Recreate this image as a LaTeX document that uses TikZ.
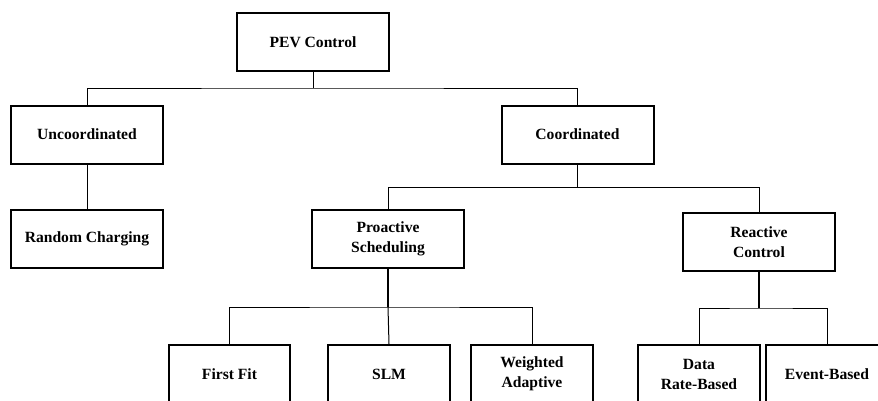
\documentclass[tikz,border=0pt]{standalone}
\usepackage{fontspec}
\setmainfont{Liberation Serif}
\usetikzlibrary{positioning}

\begin{document}
\begin{tikzpicture}[x=0.75pt, y=-0.75pt,
    box/.style={draw, line width=1.5pt, minimum width=114pt, minimum height=43.5pt,
      align=center, inner sep=2pt, font=\fontsize{11.7}{15}\selectfont\bfseries},
    leaf/.style={box, minimum width=91pt},
    link/.style={line width=0.75pt},
    trunk/.style={line width=1.4pt}]
  \useasboundingbox (0,0) rectangle (878,400);
  \clip (0,0) rectangle (878,400);
  % upper levels
  \node[box] (pev) at (313,42) {PEV Control};
  \node[box] (uncoord) at (87,134.5) {Uncoordinated};
  \node[box] (coord) at (577.5,134.5) {Coordinated};
  \node[box] (random) at (87,239) {Random Charging};
  \node[box] (proact) at (388,239) {Proactive\\Scheduling};
  \node[box] (react) at (759,242) {Reactive\\Control};
  % leaves, cut by the lower edge
  \foreach \n/\x/\l in {ff/229.5/{First Fit}, slm/389/{SLM}, wa/532/{Weighted\\Adaptive},
      drb/699/{Data\\Rate-Based}, eb/827/{Event-Based}}{
    \node[leaf] (\n) at (\x,374) {\l};}
  % buses
  \coordinate (bus1) at (pev.south |- 0,88);
  \coordinate (bus2) at (coord.south |- 0,187.5);
  \coordinate (bus3) at (proact.south |- 0,307);
  \coordinate (bus4) at (react.south |- 0,308);
  \draw[link] (pev.south) -- (bus1);
  \draw[link] (uncoord.north) |- (bus1) -| (coord.north);
  \draw[link] (uncoord.south) -- (random.north);
  \draw[link] (coord.south) -- (bus2);
  \draw[link] (proact.north) |- (bus2) -| (react.north);
  \draw[trunk] (proact.south) -- (bus3);
  \draw[link] (ff.north) |- (bus3) -| (wa.north);
  \draw[link] (bus3) -- (slm.north);
  \draw[trunk] (react.south) -- (bus4);
  \draw[link] (drb.north) |- (bus4) -| (eb.north);
\end{tikzpicture}
\end{document}
